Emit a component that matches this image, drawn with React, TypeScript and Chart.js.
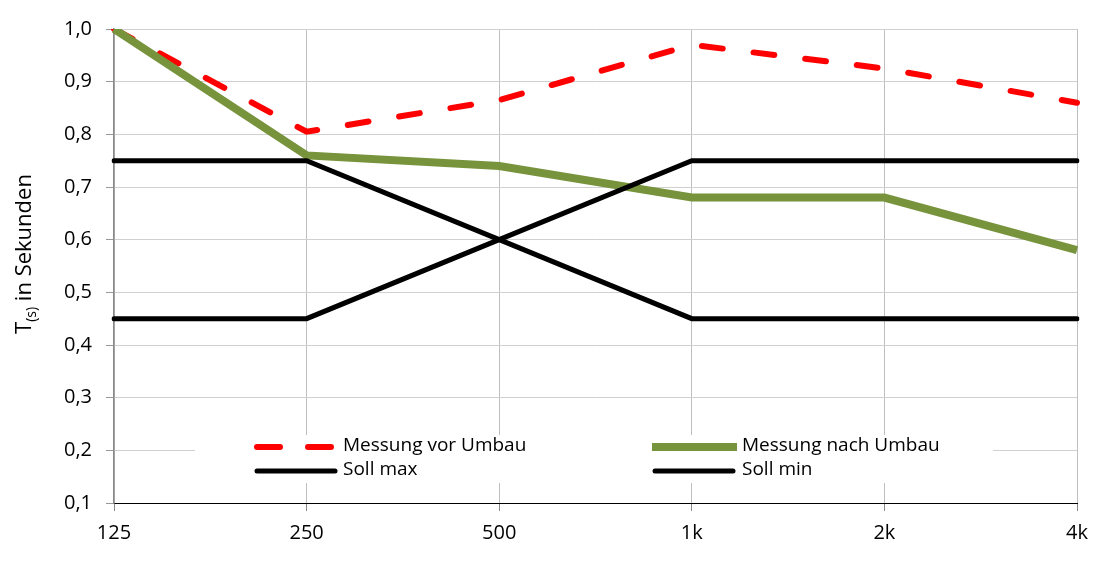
import React, { useEffect, useRef } from "react";
import { Chart, registerables } from "chart.js";

Chart.register(...registerables);

const categories = ["125", "250", "500", "1k", "2k", "4k"];
const messungVor = [1.0, 0.805, 0.865, 0.97, 0.925, 0.86];
const messungNach = [1.0, 0.76, 0.74, 0.68, 0.68, 0.58];
const sollMax = [0.75, 0.75, 0.6, 0.45, 0.45, 0.45];
const sollMin = [0.45, 0.45, 0.6, 0.75, 0.75, 0.75];
const seriesNames = ["Messung vor Umbau", "Messung nach Umbau", "Soll max", "Soll min"];

const RED = "#FF0000";
const GREEN = "#77933C";
const BLACK = "#000000";
const FONT = "'Open Sans', sans-serif";

export default function App() {
  const ref = useRef<HTMLCanvasElement | null>(null);

  useEffect(() => {
    if (!ref.current) return;

    const legendPlugin = {
      id: "customLegend",
      afterDraw(chart: any) {
        const ctx = chart.ctx;
        ctx.save();
        ctx.fillStyle = "#ffffff";
        ctx.fillRect(195, 435, 798, 48);
        ctx.font = `19px ${FONT}`;
        ctx.textBaseline = "middle";
        ctx.fillStyle = "#000";
        // red dashed
        ctx.strokeStyle = RED;
        ctx.lineWidth = 6;
        ctx.lineCap = "round";
        ctx.beginPath();
        ctx.moveTo(257, 447); ctx.lineTo(280, 447);
        ctx.moveTo(308, 447); ctx.lineTo(331, 447);
        ctx.stroke();
        ctx.fillText(seriesNames[0], 343, 446);
        // black soll max
        ctx.strokeStyle = BLACK;
        ctx.lineWidth = 5;
        ctx.beginPath();
        ctx.moveTo(257, 471); ctx.lineTo(335, 471);
        ctx.stroke();
        ctx.fillText(seriesNames[2], 343, 470);
        // green
        ctx.strokeStyle = GREEN;
        ctx.lineWidth = 8;
        ctx.lineCap = "butt";
        ctx.beginPath();
        ctx.moveTo(652, 447); ctx.lineTo(737, 447);
        ctx.stroke();
        ctx.fillText(seriesNames[1], 742, 446);
        // black soll min
        ctx.strokeStyle = BLACK;
        ctx.lineWidth = 5;
        ctx.lineCap = "round";
        ctx.beginPath();
        ctx.moveTo(655, 471); ctx.lineTo(733, 471);
        ctx.stroke();
        ctx.fillText(seriesNames[3], 742, 470);
        ctx.restore();

        // y-axis title with subscript
        ctx.save();
        ctx.translate(25, 254);
        ctx.rotate(-Math.PI / 2);
        ctx.fillStyle = "#000";
        ctx.textBaseline = "middle";
        const big = `22px ${FONT}`;
        const small = `14px ${FONT}`;
        ctx.font = big;
        const wT = ctx.measureText("T").width;
        const wRest = ctx.measureText(" in Sekunden").width;
        ctx.font = small;
        const wS = ctx.measureText("(s)").width;
        const total = wT + wS + wRest;
        let x = -total / 2;
        ctx.font = big;
        ctx.fillText("T", x, 0);
        x += wT;
        ctx.font = small;
        ctx.fillText("(s)", x, 7);
        x += wS;
        ctx.font = big;
        ctx.fillText(" in Sekunden", x, 0);
        ctx.restore();
      },
    };

    const chart = new Chart(ref.current, {
      type: "line",
      data: {
        labels: categories,
        datasets: [
          {
            label: seriesNames[0],
            data: messungVor,
            borderColor: RED,
            borderWidth: 6,
            borderDash: [21, 31],
            borderCapStyle: "round",
            pointRadius: 0,
            tension: 0,
            order: 4,
          },
          {
            label: seriesNames[1],
            data: messungNach,
            borderColor: GREEN,
            borderWidth: 8,
            borderCapStyle: "butt",
            pointRadius: 0,
            tension: 0,
            order: 3,
          },
          {
            label: seriesNames[2],
            data: sollMax,
            borderColor: BLACK,
            borderWidth: 5,
            borderCapStyle: "round",
            pointRadius: 0,
            tension: 0,
            order: 2,
          },
          {
            label: seriesNames[3],
            data: sollMin,
            borderColor: BLACK,
            borderWidth: 5,
            borderCapStyle: "round",
            pointRadius: 0,
            tension: 0,
            order: 1,
          },
        ],
      },
      options: {
        animation: false,
        responsive: false,
        layout: { padding: { left: 0, right: 31, top: 29, bottom: 0 } },
        plugins: {
          legend: { display: false },
          tooltip: { enabled: false },
          title: { display: false },
        },
        scales: {
          x: {
            type: "category",
            offset: false,
            grid: {
              offset: false,
              color: "#bfbfbf",
              tickColor: "#888",
              tickLength: 8,
              lineWidth: 1,
            },
            border: { color: "#000", width: 1 },
            ticks: {
              color: "#000",
              font: { family: FONT, size: 20 },
              padding: 10,
              maxRotation: 0,
              autoSkip: false,
            },
            afterFit: (s: any) => {
              s.height = 65;
            },
          },
          y: {
            min: 0.1,
            max: 1.0,
            grid: {
              color: "#d0d0d0",
              tickColor: "#999",
              tickLength: 8,
            },
            border: { color: "#888", width: 1.5 },
            ticks: {
              stepSize: 0.1,
              color: "#000",
              font: { family: FONT, size: 20 },
              padding: 14,
              callback: (v: any) => Number(v).toFixed(1).replace(".", ","),
            },
            afterFit: (s: any) => {
              s.width = 114;
            },
          },
        },
      },
      plugins: [legendPlugin],
    } as any);

    return () => chart.destroy();
  }, []);

  return (
    <div style={{ position: "fixed", left: 0, top: 0, width: 1108, height: 568, background: "#fff" }}>
      <canvas ref={ref} width={1108} height={568} style={{ display: "block" }} />
    </div>
  );
}
